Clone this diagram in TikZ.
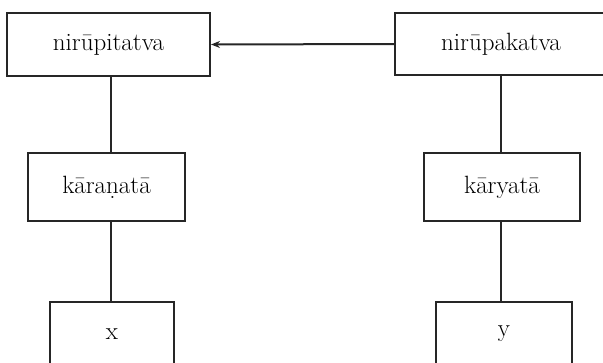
\documentclass[tikz,border=0pt]{standalone}
\usetikzlibrary{arrows.meta}
\begin{document}
\begin{tikzpicture}[x=1pt,y=-1pt,
  box/.style={draw=black!85, line width=2pt, rectangle, inner sep=0pt,
    font=\fontsize{25}{30}\selectfont},
  link/.style={draw=black!85, line width=2pt}]
\useasboundingbox (0,0) rectangle (603,362);
\clip (0,0) rectangle (603,362);
% top row
\node[box, minimum width=203pt, minimum height=63pt] (pitatva) at (108.5,44.5) {nirūpitatva};
\node[box, minimum width=212pt, minimum height=62pt] (pakatva) at (501,44) {nirūpakatva};
% middle row
\node[box, minimum width=157pt, minimum height=68pt] (karana) at (106.5,187) {kāraṇatā};
\node[box, minimum width=156pt, minimum height=68pt] (karya) at (502,187) {kāryatā};
% bottom row, running past the lower edge
\node[box, minimum width=124pt, minimum height=64pt] (x) at (112,334) {x};
\node[box, minimum width=136pt, minimum height=64pt] (y) at (504,334) {y};
% left spine and right spine
\coordinate (ls) at (111,0);
\coordinate (rs) at (501,0);
% connectors
\draw[link, -{Stealth[length=9pt,width=7pt]}] (pakatva.west) -- (pitatva.east);
\draw[link] (pitatva.south -| ls) -- (karana.north -| ls);
\draw[link] (karana.south -| ls) -- (x.north -| ls);
\draw[link] (pakatva.south -| rs) -- (karya.north -| rs);
\draw[link] (karya.south -| rs) -- (y.north -| rs);
\end{tikzpicture}
\end{document}
